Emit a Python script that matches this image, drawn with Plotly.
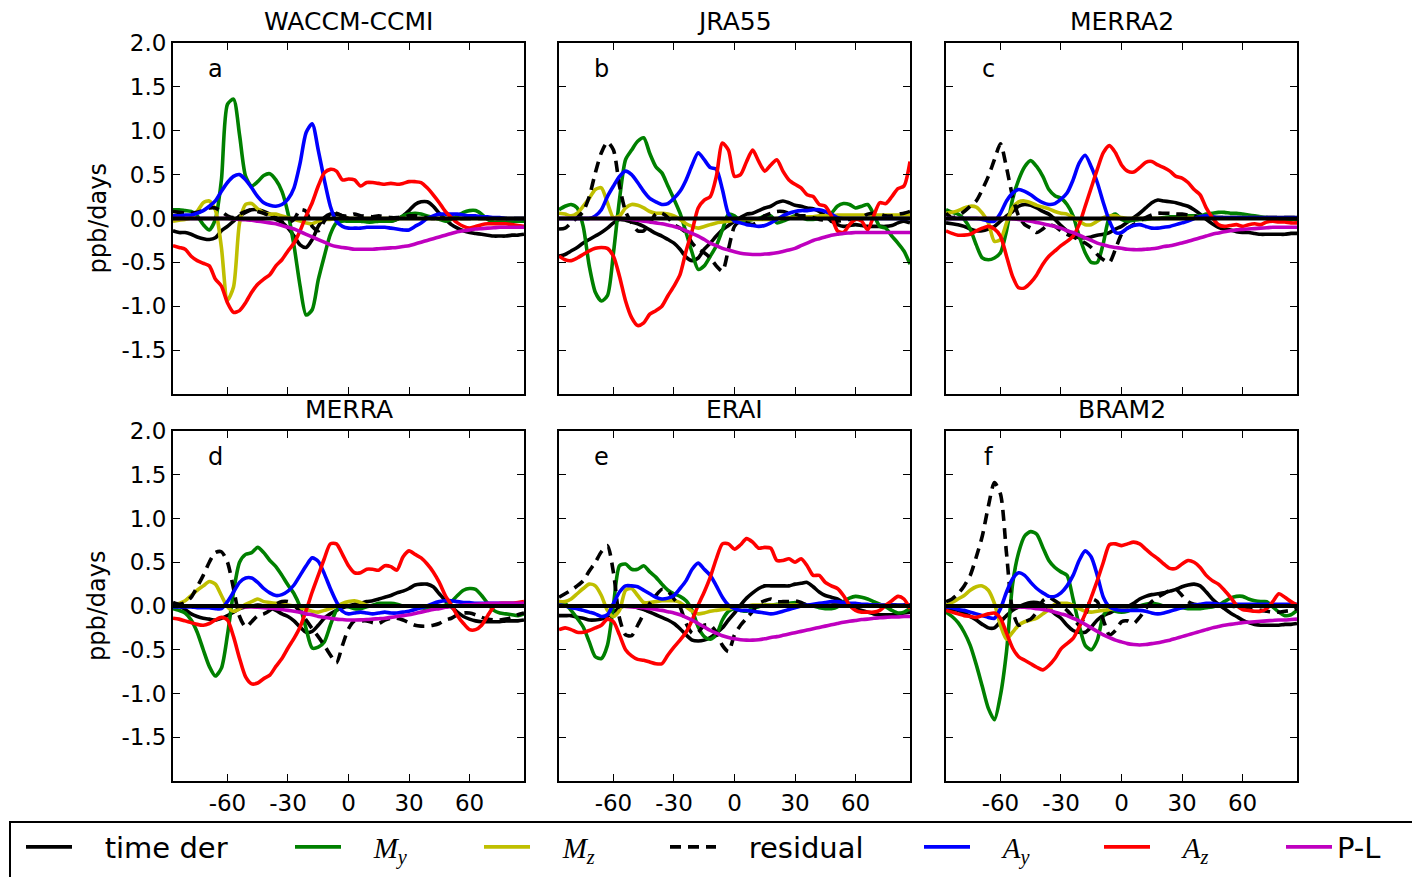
import plotly.graph_objects as go

# ---------------- data ----------------
LAT = [-87, -84, -81, -78, -75, -72, -69, -66, -63, -60,
       -57, -54, -51, -48, -45, -42, -39, -36, -33, -30,
       -27, -24, -21, -18, -15, -12, -9, -6, -3, 0,
       3, 6, 9, 12, 15, 18, 21, 24, 27, 30,
       33, 36, 39, 42, 45, 48, 51, 54, 57, 60,
       63, 66, 69, 72, 75, 78, 81, 84, 87]

PANEL_TITLES = ["WACCM-CCMI", "JRA55", "MERRA2", "MERRA", "ERAI", "BRAM2"]
PANEL_LETTERS = ["a", "b", "c", "d", "e", "f"]
X_TICKS = [-60, -30, 0, 30, 60]
X_TICK_TEXT = ["-60", "-30", "0", "30", "60"]
Y_TICKS = [-1.5, -1.0, -0.5, 0.0, 0.5, 1.0, 1.5, 2.0]
Y_TICK_TEXT = ["-1.5", "-1.0", "-0.5", "0.0", "0.5", "1.0", "1.5", "2.0"]
Y_LABEL = "ppb/days"

# --- a: WACCM-CCMI ---
waccm_time_der = [-0.14, -0.16, -0.16, -0.18, -0.21, -0.23, -0.24, -0.22, -0.14, -0.09,
                  -0.03, 0.03, 0.07, 0.10, 0.10, 0.08, 0.05, 0.01, -0.04, -0.11,
                  -0.20, -0.30, -0.33, -0.24, -0.09, 0.01, 0.05, 0.05, 0.03, 0.00,
                  -0.02, -0.03, -0.03, -0.03, -0.03, -0.03, -0.03, -0.01, 0.03, 0.09,
                  0.16, 0.19, 0.19, 0.14, 0.06, -0.01, -0.07, -0.11, -0.14, -0.16,
                  -0.17, -0.18, -0.19, -0.20, -0.20, -0.20, -0.19, -0.19, -0.18]
waccm_my = [0.10, 0.10, 0.09, 0.08, 0.03, -0.07, -0.13, -0.01, 0.44, 1.30,
            1.36, 0.95, 0.48, 0.37, 0.42, 0.49, 0.51, 0.44, 0.31, 0.06,
            -0.31, -0.77, -1.10, -1.04, -0.70, -0.43, -0.18, -0.05, -0.03, -0.03,
            -0.03, -0.03, -0.04, -0.04, -0.03, -0.03, -0.03, -0.01, 0.03, 0.05,
            0.06, 0.05, 0.03, 0.01, -0.01, -0.03, -0.01, 0.03, 0.07, 0.09,
            0.09, 0.05, -0.01, -0.04, -0.04, -0.04, -0.03, -0.03, -0.03]
waccm_mz = [-0.03, -0.02, -0.01, 0.01, 0.08, 0.18, 0.20, 0.10, -0.33, -0.93,
            -0.78, -0.05, 0.16, 0.17, 0.11, 0.06, 0.05, 0.05, 0.03, 0.01,
            -0.01, -0.03, -0.05, -0.06, -0.03, -0.01, -0.01, 0.00, 0.00, 0.00,
            0.00, 0.00, 0.00, 0.00, 0.00, 0.00, 0.00, 0.00, 0.00, 0.00,
            0.00, 0.00, 0.00, 0.00, 0.00, 0.00, 0.00, 0.00, 0.00, 0.00,
            0.00, 0.00, 0.00, 0.00, 0.00, 0.00, 0.00, 0.00, 0.00]
waccm_residual = [0.08, 0.07, 0.06, 0.06, 0.07, 0.09, 0.12, 0.12, 0.08, 0.03,
                  0.01, 0.05, 0.08, 0.10, 0.08, 0.06, 0.03, -0.01, -0.04, -0.05,
                  -0.01, 0.10, 0.08, -0.09, -0.14, -0.03, 0.05, 0.06, 0.03, 0.03,
                  0.05, 0.03, 0.03, 0.02, 0.03, 0.02, 0.01, 0.01, 0.02, 0.03,
                  0.03, 0.02, 0.01, 0.00, 0.00, 0.00, 0.00, 0.00, 0.00, 0.00,
                  0.00, 0.00, 0.00, 0.00, 0.00, 0.00, 0.00, 0.00, 0.00]
waccm_ay = [0.03, 0.03, 0.04, 0.04, 0.06, 0.09, 0.14, 0.20, 0.31, 0.41,
            0.48, 0.50, 0.44, 0.35, 0.25, 0.18, 0.15, 0.14, 0.16, 0.22,
            0.35, 0.63, 0.98, 1.08, 0.78, 0.44, 0.14, -0.03, -0.09, -0.11,
            -0.11, -0.11, -0.10, -0.10, -0.10, -0.10, -0.11, -0.12, -0.13, -0.13,
            -0.09, -0.05, 0.00, 0.03, 0.05, 0.05, 0.05, 0.05, 0.04, 0.03,
            0.03, 0.02, 0.02, 0.01, 0.01, 0.00, 0.00, 0.00, 0.00]
waccm_az = [-0.31, -0.33, -0.35, -0.43, -0.48, -0.51, -0.54, -0.69, -0.77, -0.96,
            -1.07, -1.05, -0.96, -0.84, -0.75, -0.69, -0.64, -0.54, -0.47, -0.37,
            -0.28, -0.14, 0.03, 0.18, 0.37, 0.52, 0.56, 0.54, 0.44, 0.45,
            0.44, 0.37, 0.41, 0.41, 0.40, 0.39, 0.40, 0.39, 0.40, 0.42,
            0.42, 0.41, 0.35, 0.27, 0.18, 0.08, 0.01, -0.05, -0.09, -0.11,
            -0.09, -0.07, -0.06, -0.06, -0.06, -0.06, -0.07, -0.08, -0.09]
waccm_pl = [0.00, 0.00, 0.00, 0.00, 0.00, 0.00, 0.00, 0.00, 0.00, 0.00,
            -0.005, -0.01, -0.015, -0.02, -0.03, -0.04, -0.05, -0.06, -0.08, -0.10,
            -0.12, -0.15, -0.18, -0.21, -0.24, -0.27, -0.30, -0.32, -0.33, -0.34,
            -0.35, -0.35, -0.35, -0.35, -0.345, -0.34, -0.335, -0.33, -0.32, -0.31,
            -0.29, -0.27, -0.25, -0.23, -0.21, -0.19, -0.17, -0.15, -0.14, -0.13,
            -0.12, -0.115, -0.11, -0.105, -0.10, -0.10, -0.10, -0.10, -0.10]

# --- b: JRA55 ---
jra55_time_der = [-0.43, -0.41, -0.37, -0.33, -0.28, -0.24, -0.20, -0.16, -0.11, -0.05,
                  -0.01, -0.02, -0.04, -0.06, -0.09, -0.13, -0.17, -0.20, -0.24, -0.28,
                  -0.35, -0.44, -0.48, -0.45, -0.35, -0.28, -0.20, -0.13, -0.08, -0.03,
                  0.01, 0.05, 0.06, 0.09, 0.12, 0.14, 0.18, 0.20, 0.18, 0.15,
                  0.14, 0.12, 0.11, 0.08, 0.03, -0.03, -0.07, -0.09, -0.08, -0.07,
                  -0.08, -0.09, -0.09, -0.09, -0.09, -0.08, -0.05, -0.03, -0.05]
jra55_my = [0.10, 0.14, 0.16, 0.12, -0.09, -0.54, -0.84, -0.94, -0.88, -0.39,
            0.22, 0.67, 0.78, 0.88, 0.92, 0.74, 0.59, 0.52, 0.37, 0.22,
            0.06, -0.16, -0.39, -0.58, -0.54, -0.43, -0.31, -0.13, 0.05, 0.03,
            -0.03, -0.03, -0.01, 0.00, 0.03, 0.03, -0.05, -0.03, 0.00, 0.03,
            0.01, -0.01, -0.01, 0.00, 0.03, 0.06, 0.14, 0.17, 0.16, 0.12,
            0.14, 0.16, 0.05, -0.09, -0.11, -0.20, -0.28, -0.37, -0.52]
jra55_mz = [0.06, 0.05, 0.03, 0.06, 0.14, 0.23, 0.33, 0.35, 0.18, 0.01,
            0.03, 0.12, 0.16, 0.15, 0.12, 0.08, 0.06, 0.06, 0.05, 0.03,
            -0.01, -0.06, -0.09, -0.11, -0.09, -0.07, -0.05, -0.04, -0.03, -0.02,
            -0.01, -0.01, -0.01, -0.01, -0.01, -0.01, 0.00, 0.00, 0.01, 0.01,
            0.02, 0.02, 0.02, 0.03, 0.03, 0.03, 0.04, 0.04, 0.04, 0.04,
            0.04, 0.04, 0.04, 0.04, 0.04, 0.04, 0.04, 0.04, 0.04]
jra55_residual = [-0.12, -0.11, -0.05, 0.01, 0.08, 0.25, 0.52, 0.75, 0.87, 0.78,
                  0.37, 0.08, -0.05, -0.14, -0.14, -0.05, 0.05, 0.06, 0.01, -0.07,
                  -0.11, -0.16, -0.28, -0.35, -0.39, -0.45, -0.54, -0.60, -0.35, -0.09,
                  -0.03, -0.05, -0.07, -0.03, 0.03, 0.06, 0.08, 0.08, 0.06, 0.05,
                  0.03, 0.03, 0.01, -0.01, -0.02, -0.03, -0.03, -0.02, -0.01, -0.01,
                  0.01, 0.05, 0.06, 0.05, 0.03, 0.03, 0.05, 0.06, 0.08]
jra55_ay = [0.00, 0.00, 0.00, 0.00, 0.00, 0.00, 0.03, 0.10, 0.25, 0.37,
            0.48, 0.54, 0.50, 0.41, 0.31, 0.23, 0.19, 0.16, 0.17, 0.23,
            0.31, 0.44, 0.61, 0.75, 0.67, 0.58, 0.56, 0.33, 0.05, -0.03,
            -0.05, -0.07, -0.08, -0.09, -0.08, -0.05, -0.01, 0.03, 0.06, 0.08,
            0.09, 0.09, 0.10, 0.10, 0.08, 0.05, 0.01, 0.00, 0.00, 0.00,
            0.00, 0.00, 0.00, 0.00, 0.00, 0.00, 0.00, 0.00, 0.00]
jra55_az = [-0.43, -0.47, -0.48, -0.45, -0.41, -0.37, -0.34, -0.33, -0.34, -0.43,
            -0.66, -0.94, -1.13, -1.22, -1.19, -1.09, -1.05, -1.00, -0.88, -0.77,
            -0.64, -0.37, -0.14, 0.12, 0.21, 0.25, 0.48, 0.86, 0.78, 0.48,
            0.50, 0.65, 0.78, 0.65, 0.54, 0.61, 0.67, 0.54, 0.44, 0.39,
            0.35, 0.27, 0.25, 0.16, 0.14, 0.03, -0.14, -0.16, -0.07, -0.01,
            -0.03, -0.13, 0.03, 0.18, 0.17, 0.25, 0.34, 0.37, 0.65]
jra55_pl = [0.00, 0.00, 0.00, 0.00, 0.00, 0.00, 0.00, 0.00, 0.00, 0.00,
            0.00, -0.005, -0.01, -0.02, -0.03, -0.04, -0.05, -0.06, -0.075, -0.09,
            -0.11, -0.14, -0.17, -0.20, -0.24, -0.28, -0.31, -0.34, -0.36, -0.38,
            -0.395, -0.405, -0.41, -0.41, -0.405, -0.40, -0.39, -0.375, -0.36, -0.34,
            -0.31, -0.28, -0.25, -0.23, -0.21, -0.19, -0.18, -0.17, -0.165, -0.16,
            -0.16, -0.16, -0.16, -0.16, -0.16, -0.16, -0.16, -0.16, -0.16]

# --- c: MERRA2 ---
merra2_time_der = [-0.05, -0.06, -0.07, -0.09, -0.12, -0.14, -0.14, -0.12, -0.09, -0.03,
                   0.03, 0.08, 0.14, 0.16, 0.15, 0.12, 0.08, 0.05, -0.01, -0.08,
                   -0.14, -0.19, -0.22, -0.22, -0.21, -0.19, -0.18, -0.16, -0.12, -0.09,
                   -0.04, 0.01, 0.06, 0.12, 0.18, 0.21, 0.20, 0.19, 0.18, 0.16,
                   0.14, 0.10, 0.05, -0.01, -0.06, -0.10, -0.12, -0.13, -0.15, -0.16,
                   -0.16, -0.17, -0.18, -0.18, -0.18, -0.18, -0.18, -0.17, -0.17]
merra2_my = [0.10, 0.07, 0.05, -0.01, -0.12, -0.30, -0.45, -0.47, -0.45, -0.39,
             -0.14, 0.22, 0.44, 0.59, 0.66, 0.59, 0.48, 0.33, 0.26, 0.23,
             0.16, 0.03, -0.20, -0.39, -0.50, -0.50, -0.28, 0.01, 0.05, -0.01,
             -0.03, -0.02, -0.01, -0.01, 0.00, 0.00, 0.01, 0.02, 0.02, 0.03,
             0.03, 0.03, 0.03, 0.05, 0.06, 0.07, 0.07, 0.06, 0.06, 0.05,
             0.04, 0.03, 0.02, 0.01, 0.00, -0.01, -0.01, -0.01, -0.01]
merra2_mz = [0.06, 0.07, 0.09, 0.12, 0.14, 0.13, 0.06, -0.05, -0.26, -0.24,
             -0.05, 0.12, 0.19, 0.20, 0.18, 0.15, 0.13, 0.11, 0.08, 0.06,
             0.05, 0.01, -0.03, -0.07, -0.07, -0.03, 0.01, 0.03, 0.03, 0.01,
             0.00, 0.00, 0.00, 0.00, 0.00, 0.00, 0.00, 0.00, 0.00, 0.00,
             0.01, 0.01, 0.01, 0.01, 0.01, 0.01, 0.01, 0.01, 0.01, 0.01,
             0.01, 0.01, 0.01, 0.01, 0.01, 0.01, 0.01, 0.01, 0.01]
merra2_residual = [0.06, 0.01, 0.03, 0.08, 0.14, 0.20, 0.33, 0.48, 0.67, 0.85,
                   0.58, 0.25, 0.03, -0.07, -0.11, -0.16, -0.12, -0.07, -0.09, -0.14,
                   -0.18, -0.21, -0.24, -0.28, -0.33, -0.41, -0.47, -0.50, -0.35, -0.18,
                   -0.11, -0.07, -0.03, 0.01, 0.04, 0.06, 0.06, 0.06, 0.05, 0.05,
                   0.04, 0.03, 0.01, 0.01, 0.01, 0.01, 0.01, 0.01, 0.01, 0.01,
                   0.01, 0.01, 0.01, 0.01, 0.01, 0.01, 0.01, 0.01, 0.01]
merra2_ay = [0.00, 0.00, 0.00, 0.00, 0.00, 0.00, -0.01, -0.03, -0.03, 0.06,
             0.20, 0.29, 0.33, 0.31, 0.27, 0.22, 0.18, 0.16, 0.17, 0.22,
             0.29, 0.44, 0.63, 0.72, 0.59, 0.41, 0.18, -0.03, -0.16, -0.16,
             -0.11, -0.08, -0.07, -0.09, -0.11, -0.11, -0.10, -0.09, -0.07, -0.05,
             -0.03, 0.00, 0.02, 0.03, 0.02, 0.01, 0.01, 0.01, 0.01, 0.01,
             0.01, 0.01, 0.01, 0.01, 0.01, 0.01, 0.01, 0.01, 0.01]
merra2_az = [-0.14, -0.17, -0.19, -0.19, -0.18, -0.14, -0.11, -0.09, -0.12, -0.20,
             -0.43, -0.66, -0.79, -0.79, -0.73, -0.64, -0.52, -0.43, -0.37, -0.31,
             -0.26, -0.20, -0.07, 0.14, 0.35, 0.56, 0.75, 0.83, 0.75, 0.61,
             0.54, 0.53, 0.58, 0.64, 0.65, 0.61, 0.58, 0.54, 0.48, 0.46,
             0.41, 0.33, 0.27, 0.12, 0.01, -0.07, -0.09, -0.08, -0.07, -0.09,
             -0.07, -0.06, -0.07, -0.04, -0.03, -0.04, -0.04, -0.05, -0.05]
merra2_pl = [0.00, 0.00, 0.00, 0.00, 0.00, 0.00, 0.00, 0.00, 0.00, 0.00,
             0.00, -0.005, -0.01, -0.02, -0.03, -0.045, -0.06, -0.075, -0.09, -0.11,
             -0.14, -0.16, -0.19, -0.22, -0.25, -0.28, -0.30, -0.32, -0.33, -0.34,
             -0.35, -0.355, -0.355, -0.35, -0.345, -0.335, -0.32, -0.31, -0.295, -0.28,
             -0.26, -0.24, -0.22, -0.20, -0.18, -0.165, -0.15, -0.14, -0.13, -0.125,
             -0.12, -0.115, -0.11, -0.105, -0.10, -0.10, -0.10, -0.10, -0.10]

# --- d: MERRA ---
merra_time_der = [0.03, 0.00, -0.04, -0.09, -0.12, -0.14, -0.15, -0.16, -0.14, -0.11,
                  -0.07, -0.03, -0.01, 0.00, 0.01, 0.00, -0.02, -0.05, -0.09, -0.12,
                  -0.17, -0.24, -0.30, -0.29, -0.22, -0.14, -0.09, -0.05, -0.02, 0.00,
                  0.02, 0.03, 0.05, 0.06, 0.08, 0.10, 0.12, 0.15, 0.17, 0.20,
                  0.24, 0.25, 0.25, 0.22, 0.14, 0.06, -0.01, -0.07, -0.12, -0.15,
                  -0.17, -0.18, -0.18, -0.18, -0.18, -0.17, -0.17, -0.17, -0.16]
merra_my = [-0.03, -0.05, -0.08, -0.16, -0.30, -0.50, -0.69, -0.80, -0.71, -0.33,
            0.16, 0.50, 0.59, 0.61, 0.67, 0.61, 0.52, 0.45, 0.35, 0.24,
            0.14, -0.01, -0.26, -0.48, -0.47, -0.41, -0.22, -0.05, 0.01, -0.01,
            -0.03, -0.03, -0.01, 0.01, 0.03, 0.03, 0.03, 0.02, 0.00, 0.00,
            -0.01, -0.02, -0.03, -0.03, -0.02, 0.01, 0.05, 0.12, 0.18, 0.20,
            0.19, 0.12, 0.03, -0.05, -0.08, -0.09, -0.10, -0.11, -0.09]
merra_mz = [0.02, 0.03, 0.06, 0.12, 0.18, 0.23, 0.28, 0.25, 0.12, -0.01,
            -0.06, -0.03, 0.02, 0.05, 0.08, 0.05, 0.04, 0.03, 0.02, 0.01,
            0.00, -0.02, -0.04, -0.06, -0.07, -0.05, -0.03, 0.00, 0.03, 0.05,
            0.06, 0.04, 0.01, 0.00, 0.00, 0.00, 0.00, 0.00, 0.00, 0.00,
            0.00, 0.00, 0.00, 0.00, 0.00, 0.00, 0.00, 0.00, 0.00, 0.00,
            0.00, 0.00, 0.00, 0.00, 0.00, 0.00, 0.00, 0.00, 0.00]
merra_residual = [0.04, 0.02, 0.04, 0.10, 0.22, 0.35, 0.50, 0.61, 0.62, 0.50,
                  0.20, -0.12, -0.24, -0.18, -0.11, -0.09, -0.05, 0.02, 0.05, 0.05,
                  0.01, -0.07, -0.16, -0.26, -0.35, -0.45, -0.56, -0.65, -0.45, -0.26,
                  -0.17, -0.17, -0.17, -0.19, -0.20, -0.16, -0.14, -0.14, -0.16, -0.19,
                  -0.22, -0.23, -0.23, -0.22, -0.20, -0.16, -0.14, -0.10, -0.08, -0.08,
                  -0.10, -0.13, -0.15, -0.16, -0.16, -0.15, -0.13, -0.10, -0.08]
merra_ay = [-0.01, -0.01, -0.01, -0.01, -0.02, -0.02, -0.02, -0.03, -0.03, 0.05,
            0.16, 0.27, 0.32, 0.32, 0.27, 0.20, 0.15, 0.12, 0.13, 0.17,
            0.24, 0.35, 0.46, 0.55, 0.51, 0.37, 0.20, 0.05, -0.06, -0.09,
            -0.08, -0.07, -0.08, -0.09, -0.08, -0.07, -0.08, -0.08, -0.07, -0.06,
            -0.04, -0.02, 0.00, 0.03, 0.05, 0.06, 0.06, 0.05, 0.04, 0.04,
            0.03, 0.03, 0.03, 0.03, 0.03, 0.03, 0.03, 0.03, 0.03]
merra_az = [-0.14, -0.15, -0.17, -0.19, -0.21, -0.22, -0.20, -0.16, -0.13, -0.16,
            -0.35, -0.60, -0.81, -0.89, -0.88, -0.83, -0.79, -0.69, -0.60, -0.48,
            -0.37, -0.24, -0.05, 0.16, 0.35, 0.54, 0.71, 0.71, 0.59, 0.46,
            0.38, 0.38, 0.42, 0.42, 0.41, 0.46, 0.45, 0.41, 0.56, 0.63,
            0.59, 0.55, 0.48, 0.39, 0.27, 0.12, 0.01, -0.11, -0.20, -0.27,
            -0.27, -0.22, -0.11, -0.01, 0.03, 0.03, 0.03, 0.04, 0.05]
merra_pl = [0.00, 0.00, 0.00, 0.00, 0.00, 0.00, 0.00, 0.00, 0.00, 0.00,
            0.00, -0.005, -0.01, -0.01, -0.015, -0.02, -0.025, -0.03, -0.04, -0.05,
            -0.06, -0.07, -0.09, -0.10, -0.12, -0.13, -0.14, -0.15, -0.155, -0.16,
            -0.16, -0.158, -0.155, -0.15, -0.145, -0.14, -0.13, -0.12, -0.11, -0.10,
            -0.085, -0.07, -0.055, -0.04, -0.03, -0.015, -0.005, 0.005, 0.01, 0.015,
            0.02, 0.025, 0.03, 0.03, 0.03, 0.03, 0.03, 0.03, 0.03]

# --- e: ERAI ---
erai_time_der = [-0.11, -0.11, -0.11, -0.13, -0.14, -0.16, -0.16, -0.15, -0.12, -0.07,
                 -0.02, 0.00, 0.00, -0.02, -0.04, -0.07, -0.10, -0.13, -0.16, -0.20,
                 -0.26, -0.33, -0.39, -0.40, -0.39, -0.36, -0.31, -0.25, -0.16, -0.08,
                 0.01, 0.09, 0.15, 0.20, 0.23, 0.23, 0.23, 0.23, 0.23, 0.25,
                 0.26, 0.27, 0.22, 0.16, 0.12, 0.10, 0.08, 0.04, 0.00, -0.03,
                 -0.05, -0.07, -0.09, -0.10, -0.10, -0.10, -0.09, -0.08, -0.07]
erai_my = [0.05, 0.03, -0.05, -0.14, -0.24, -0.41, -0.58, -0.60, -0.45, 0.01,
           0.46, 0.48, 0.42, 0.42, 0.46, 0.39, 0.33, 0.25, 0.18, 0.14,
           0.11, 0.06, -0.05, -0.24, -0.35, -0.38, -0.33, -0.16, -0.06, -0.03,
           -0.05, -0.06, -0.03, -0.01, 0.01, 0.01, 0.02, 0.02, 0.03, 0.04,
           0.03, 0.01, 0.00, -0.02, -0.03, -0.03, -0.01, 0.05, 0.09, 0.11,
           0.10, 0.08, 0.05, 0.02, -0.01, -0.05, -0.08, -0.07, -0.03]
erai_mz = [0.05, 0.05, 0.08, 0.14, 0.20, 0.25, 0.23, 0.12, -0.05, -0.12,
           -0.05, 0.18, 0.20, 0.12, 0.04, 0.04, 0.05, 0.06, 0.06, 0.06,
           0.04, -0.01, -0.06, -0.09, -0.08, -0.06, -0.05, -0.04, -0.03, -0.02,
           -0.01, 0.00, 0.01, 0.01, 0.01, 0.01, 0.01, 0.01, 0.01, 0.01,
           0.015, 0.015, 0.015, 0.015, 0.015, 0.015, 0.015, 0.015, 0.015, 0.015,
           0.015, 0.015, 0.015, 0.015, 0.015, 0.015, 0.015, 0.015, 0.015]
erai_residual = [0.10, 0.14, 0.18, 0.23, 0.29, 0.40, 0.50, 0.62, 0.69, 0.38,
                 -0.14, -0.33, -0.34, -0.22, -0.09, 0.03, 0.12, 0.19, 0.17, 0.08,
                 -0.01, -0.20, -0.31, -0.30, -0.22, -0.22, -0.30, -0.45, -0.52, -0.33,
                 -0.22, -0.14, -0.06, 0.03, 0.06, 0.08, 0.05, 0.05, 0.05, 0.06,
                 0.04, 0.01, 0.01, 0.01, 0.01, 0.01, 0.01, 0.01, 0.01, 0.01,
                 0.01, 0.01, 0.01, 0.01, 0.01, 0.01, 0.01, 0.01, 0.01]
erai_ay = [0.01, 0.00, -0.02, -0.03, -0.05, -0.07, -0.09, -0.12, -0.10, 0.03,
           0.16, 0.23, 0.23, 0.22, 0.18, 0.14, 0.10, 0.08, 0.09, 0.12,
           0.20, 0.29, 0.42, 0.49, 0.42, 0.35, 0.23, 0.10, 0.01, -0.03,
           -0.05, -0.05, -0.06, -0.07, -0.08, -0.09, -0.08, -0.06, -0.04, -0.02,
           0.00, 0.01, 0.02, 0.03, 0.04, 0.05, 0.05, 0.04, 0.03, 0.03,
           0.02, 0.02, 0.01, 0.01, 0.01, 0.01, 0.01, 0.01, 0.01]
erai_az = [-0.27, -0.25, -0.27, -0.30, -0.30, -0.28, -0.25, -0.22, -0.15, -0.18,
           -0.33, -0.50, -0.57, -0.61, -0.62, -0.64, -0.66, -0.66, -0.56, -0.47,
           -0.39, -0.30, -0.16, 0.01, 0.16, 0.33, 0.54, 0.71, 0.71, 0.65,
           0.70, 0.77, 0.73, 0.66, 0.67, 0.66, 0.52, 0.52, 0.54, 0.50,
           0.54, 0.46, 0.35, 0.35, 0.27, 0.23, 0.20, 0.12, 0.01, -0.05,
           -0.07, -0.07, -0.07, -0.05, 0.01, 0.06, 0.11, 0.08, -0.03]
erai_pl = [0.00, 0.00, 0.00, 0.00, 0.00, 0.00, 0.00, 0.00, 0.00, 0.00,
           0.00, -0.005, -0.01, -0.015, -0.02, -0.03, -0.04, -0.05, -0.065, -0.08,
           -0.10, -0.13, -0.16, -0.20, -0.24, -0.28, -0.31, -0.34, -0.36, -0.375,
           -0.385, -0.39, -0.39, -0.385, -0.375, -0.36, -0.35, -0.335, -0.32, -0.305,
           -0.29, -0.275, -0.26, -0.245, -0.23, -0.215, -0.20, -0.185, -0.175, -0.165,
           -0.155, -0.15, -0.14, -0.135, -0.13, -0.125, -0.125, -0.12, -0.12]

# --- f: BRAM2 ---
bram2_time_der = [-0.03, -0.04, -0.05, -0.08, -0.12, -0.16, -0.21, -0.25, -0.25, -0.18,
                  -0.11, -0.05, -0.01, 0.02, 0.04, 0.04, 0.02, -0.03, -0.09, -0.14,
                  -0.22, -0.28, -0.30, -0.30, -0.24, -0.16, -0.11, -0.08, -0.05, -0.04,
                  -0.01, 0.03, 0.08, 0.11, 0.13, 0.14, 0.15, 0.17, 0.19, 0.22,
                  0.24, 0.25, 0.23, 0.16, 0.08, 0.02, -0.03, -0.08, -0.12, -0.16,
                  -0.19, -0.21, -0.22, -0.22, -0.22, -0.22, -0.21, -0.21, -0.20]
bram2_my = [-0.07, -0.12, -0.19, -0.30, -0.45, -0.67, -0.92, -1.17, -1.30, -1.02,
            -0.52, 0.25, 0.61, 0.80, 0.85, 0.82, 0.67, 0.52, 0.44, 0.39,
            0.35, 0.08, -0.22, -0.45, -0.50, -0.39, -0.11, -0.03, -0.06, -0.07,
            -0.06, -0.03, 0.00, 0.02, 0.03, 0.02, 0.00, 0.00, -0.01, -0.02,
            -0.03, -0.03, -0.03, -0.02, -0.01, 0.01, 0.05, 0.09, 0.11, 0.11,
            0.08, 0.06, 0.05, 0.05, -0.01, -0.07, -0.11, -0.10, -0.05]
bram2_mz = [0.01, 0.04, 0.08, 0.12, 0.18, 0.22, 0.23, 0.18, 0.03, -0.22,
            -0.38, -0.30, -0.22, -0.18, -0.16, -0.14, -0.09, -0.04, 0.02, 0.03,
            0.03, 0.01, -0.03, -0.06, -0.07, -0.06, -0.05, -0.04, -0.03, -0.02,
            -0.01, 0.00, 0.00, 0.00, 0.00, 0.00, 0.00, 0.00, 0.00, 0.00,
            0.00, 0.00, 0.00, 0.00, 0.00, 0.00, 0.00, 0.00, 0.00, 0.00,
            0.00, 0.00, 0.00, 0.00, 0.00, 0.00, 0.00, 0.00, 0.00]
bram2_residual = [0.05, 0.08, 0.14, 0.23, 0.35, 0.56, 0.80, 1.14, 1.41, 1.28,
                  0.60, -0.05, -0.22, -0.18, -0.15, -0.07, 0.06, 0.10, 0.06, 0.01,
                  -0.05, -0.13, -0.22, -0.11, 0.08, 0.05, -0.16, -0.33, -0.28, -0.18,
                  -0.17, -0.20, -0.13, -0.03, 0.05, 0.10, 0.14, 0.18, 0.19, 0.12,
                  0.05, 0.02, 0.01, 0.01, 0.01, 0.01, 0.01, 0.00, -0.01, -0.01,
                  -0.02, -0.03, -0.05, -0.06, -0.07, -0.07, -0.06, -0.05, -0.03]
bram2_ay = [-0.01, -0.02, -0.04, -0.05, -0.07, -0.09, -0.11, -0.13, -0.14, -0.03,
            0.16, 0.31, 0.38, 0.35, 0.27, 0.20, 0.15, 0.11, 0.11, 0.15,
            0.23, 0.35, 0.52, 0.63, 0.56, 0.35, 0.10, -0.01, -0.04, -0.05,
            -0.05, -0.05, -0.05, -0.06, -0.08, -0.09, -0.08, -0.06, -0.04, -0.02,
            0.00, 0.01, 0.02, 0.03, 0.03, 0.02, 0.02, 0.02, 0.02, 0.02,
            0.02, 0.02, 0.02, 0.02, 0.02, 0.02, 0.02, 0.02, 0.02]
bram2_az = [-0.05, -0.07, -0.09, -0.11, -0.12, -0.13, -0.11, -0.09, -0.08, -0.14,
            -0.31, -0.48, -0.58, -0.62, -0.66, -0.70, -0.73, -0.68, -0.60, -0.49,
            -0.43, -0.37, -0.24, -0.09, 0.10, 0.29, 0.50, 0.70, 0.71, 0.69,
            0.71, 0.73, 0.71, 0.65, 0.59, 0.54, 0.48, 0.43, 0.43, 0.48,
            0.52, 0.50, 0.44, 0.35, 0.29, 0.25, 0.18, 0.10, 0.01, -0.04,
            -0.05, -0.06, -0.06, -0.03, 0.05, 0.14, 0.10, 0.05, 0.01]
bram2_pl = [0.00, 0.00, 0.00, 0.00, 0.00, 0.00, 0.00, 0.00, 0.00, 0.00,
            0.00, -0.005, -0.01, -0.015, -0.02, -0.03, -0.04, -0.05, -0.07, -0.09,
            -0.11, -0.14, -0.17, -0.21, -0.25, -0.29, -0.33, -0.36, -0.39, -0.41,
            -0.43, -0.44, -0.445, -0.44, -0.43, -0.42, -0.405, -0.39, -0.37, -0.35,
            -0.33, -0.31, -0.29, -0.27, -0.25, -0.235, -0.22, -0.21, -0.20, -0.19,
            -0.185, -0.18, -0.175, -0.17, -0.165, -0.16, -0.16, -0.155, -0.15]

PANEL_DATA = [
    [waccm_time_der, waccm_my, waccm_mz, waccm_residual, waccm_ay, waccm_az, waccm_pl],
    [jra55_time_der, jra55_my, jra55_mz, jra55_residual, jra55_ay, jra55_az, jra55_pl],
    [merra2_time_der, merra2_my, merra2_mz, merra2_residual, merra2_ay, merra2_az, merra2_pl],
    [merra_time_der, merra_my, merra_mz, merra_residual, merra_ay, merra_az, merra_pl],
    [erai_time_der, erai_my, erai_mz, erai_residual, erai_ay, erai_az, erai_pl],
    [bram2_time_der, bram2_my, bram2_mz, bram2_residual, bram2_ay, bram2_az, bram2_pl],
]

NB = "\u00a0"
MATH = "font-family:'Liberation Serif',serif"
SERIES_NAMES = [
    "time der",
    f"<span style=\"{MATH}\"><i>M</i><sub><i>y</i></sub></span>",
    f"<span style=\"{MATH}\"><i>M</i><sub><i>z</i></sub></span>",
    "residual",
    f"<span style=\"{MATH}\"><i>A</i><sub><i>y</i></sub></span>",
    f"<span style=\"{MATH}\"><i>A</i><sub><i>z</i></sub></span>",
    "P-L",
]

# ---------------- styles ----------------
SERIES_COLORS = ["#000000", "#008000", "#bfbf00", "#000000", "#0000ff", "#ff0000", "#bf00bf"]
SERIES_DASH = ["solid", "solid", "solid", "11px,7px", "solid", "solid", "solid"]
LEGEND_LINE_X = [26, 295, 484, 670, 924, 1104, 1286]   # px, left end of legend sample line
LEGEND_PAD = [3, 3, 3, 3, 3, 3, 0]                      # non-breaking spaces before label
LEGEND_Y = 847

W, H = 1412, 877
COL_PX = [(173, 524), (559, 910), (946, 1297)]
ROW_PX = [(43, 394), (431, 781)]
FONT = "DejaVu Sans"

fig = go.Figure()

for p in range(6):
    r, c = divmod(p, 3)
    ax = "" if p == 0 else str(p + 1)
    for s in range(7):
        fig.add_trace(go.Scatter(
            x=LAT, y=PANEL_DATA[p][s],
            mode="lines",
            line=dict(color=SERIES_COLORS[s], width=3.6, dash=SERIES_DASH[s],
                      shape="spline", smoothing=0.7),
            name=NB * LEGEND_PAD[s] + SERIES_NAMES[s],
            showlegend=(p == 0),
            legend="legend" if s == 0 else f"legend{s + 1}",
            xaxis="x" + ax, yaxis="y" + ax,
        ))
    x0, x1 = COL_PX[c]
    y0, y1 = ROW_PX[r]
    fig.layout["xaxis" + ax] = dict(
        domain=[x0 / W, x1 / W], range=[-87, 87], anchor="y" + ax,
        tickvals=X_TICKS, ticktext=X_TICK_TEXT, showticklabels=(r == 1),
        ticks="inside", ticklen=7, tickwidth=1, tickcolor="black",
        showline=True, linecolor="black", linewidth=2, mirror="ticks",
        showgrid=False, zeroline=False, automargin=False,
        tickfont=dict(family=FONT, size=23, color="black"),
    )
    fig.layout["yaxis" + ax] = dict(
        domain=[1 - y1 / H, 1 - y0 / H], range=[-2, 2], anchor="x" + ax,
        tickvals=Y_TICKS, ticktext=Y_TICK_TEXT, showticklabels=(c == 0),
        ticks="inside", ticklen=7, tickwidth=1, tickcolor="black",
        showline=True, linecolor="black", linewidth=2, mirror="ticks",
        showgrid=False, zeroline=False, automargin=False,
        tickfont=dict(family=FONT, size=23, color="black"),
    )
    # zero reference line
    fig.add_shape(type="line", xref=f"x{ax} domain", yref="y" + ax,
                  x0=0, x1=1, y0=0, y1=0, line=dict(color="black", width=4), layer="above")
    # panel title
    fig.add_annotation(text=PANEL_TITLES[p], xref="paper", yref="paper",
                       x=(x0 + x1) / 2 / W, y=1 - (y0 - 5) / H,
                       xanchor="center", yanchor="bottom", showarrow=False,
                       font=dict(family=FONT, size=25, color="black"))
    # panel letter
    fig.add_annotation(text=PANEL_LETTERS[p], xref="x" + ax, yref="y" + ax,
                       x=-66, y=1.7, showarrow=False,
                       font=dict(family=FONT, size=24, color="black"))
    if c == 0:
        fig.add_annotation(text=Y_LABEL, xref="paper", yref="paper",
                           x=97 / W, y=1 - (y0 + y1) / 2 / H, textangle=-90,
                           showarrow=False, xanchor="center", yanchor="middle",
                           font=dict(family=FONT, size=24, color="black"))

# legends (one per series, placed along the bottom)
for s in range(7):
    key = "legend" if s == 0 else f"legend{s + 1}"
    fig.layout[key] = dict(
        x=(LEGEND_LINE_X[s] - 5) / W, y=1 - LEGEND_Y / H,
        xanchor="left", yanchor="middle", orientation="h",
        bgcolor="rgba(0,0,0,0)", borderwidth=0,
        font=dict(family=FONT, size=29, color="black"),
        itemwidth=46,
    )

# legend frame
fig.add_shape(type="rect", xref="paper", yref="paper",
              x0=10 / W, x1=1430 / W, y0=-0.05, y1=1 - 822 / H,
              line=dict(color="black", width=2), fillcolor="rgba(0,0,0,0)", layer="above")

fig.update_layout(
    width=W, height=H, autosize=False,
    margin=dict(l=0, r=0, t=0, b=0, autoexpand=False),
    paper_bgcolor="white", plot_bgcolor="white",
    font=dict(family=FONT, color="black"),
)

fig.write_html("out.html")
